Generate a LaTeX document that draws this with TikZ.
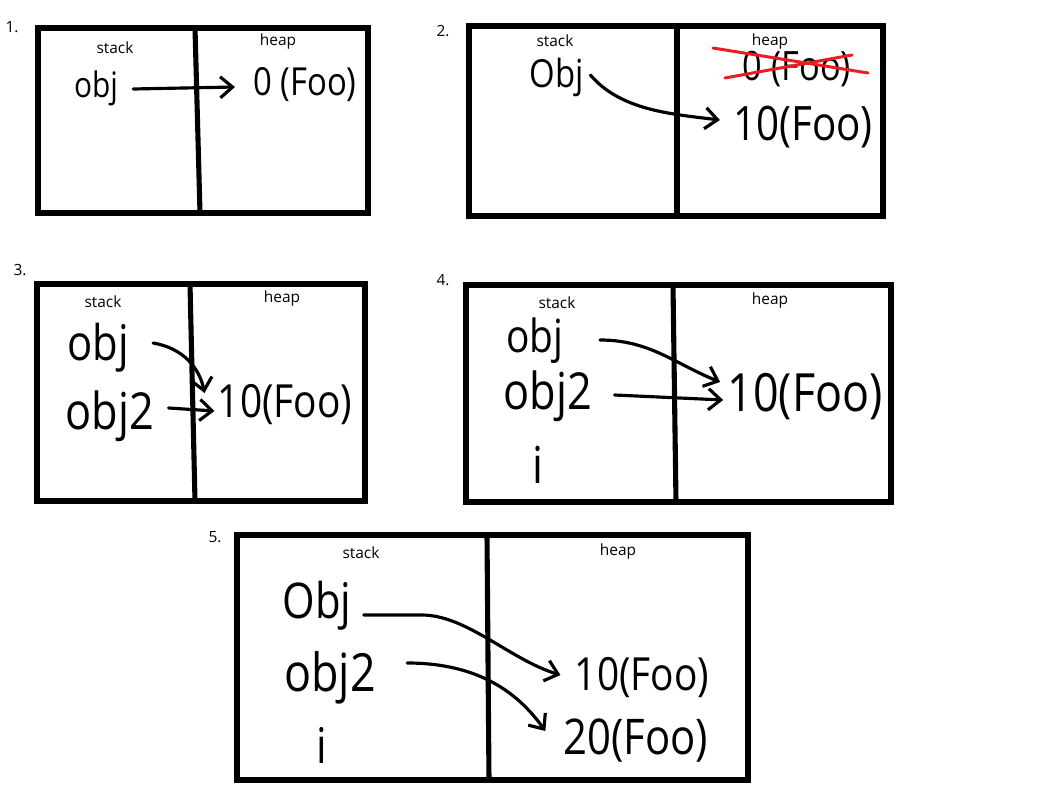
\documentclass[tikz,border=0pt]{standalone}
\usepackage{fontspec}
\setmainfont{Open Sans}
\newfontfamily\handfont[FakeStretch=0.85]{Open Sans}
\usetikzlibrary{calc,arrows.meta}
\definecolor{paintred}{RGB}{237,28,36}
\tikzstyle{frame}=[line width=2.9pt]
\tikzstyle{ptr}=[line width=1.8pt,line cap=round,-{Straight Barb[length=7pt,width=12pt]}]
\tikzstyle{strike}=[paintred,line width=1.7pt,line cap=round]
\tikzstyle{small}=[font=\fontsize{8.8}{10}\selectfont,inner sep=0pt]
\tikzstyle{hand}=[inner sep=0pt]
\newcommand{\hw}[1]{\handfont\fontsize{#1}{#1}\selectfont}
\newcommand{\drawframe}[6]{
\draw[frame] (#1,#2) rectangle (#3,#4);
\draw[frame] (#5,#2) -- (#6,#4);
}

\begin{document}
\begin{tikzpicture}[x=0.02cm,y=-0.02cm]
\useasboundingbox (0,0) rectangle (1049,797);

	% 1.
	\begin{scope}
	\drawframe{38}{28}{368}{213}{195}{200}
	\node[small] (n1) at (12,27) {1.};
	\node[small] (s1) at (115,48) {stack};
	\node[small] (h1) at (278,41) {heap};
	\node[hand,font=\hw{20}] (o1) at (96,88) {obj};
	\node[hand,font=\hw{22}] (f1) at (305,85) {0 (Foo)};
	\draw[ptr] ($(o1.east)+(15,1)$) -- ($(f1.west)+(-18,2)$);
	\end{scope}

	% 2.
	\begin{scope}
	\drawframe{469}{26}{883}{216}{677}{677}
	\node[small] (n2) at (443,31) {2.};
	\node[small] (s2) at (555,41) {stack};
	\node[small] (h2) at (770,41) {heap};
	\node[hand,font=\hw{22}] (o2) at (557,77) {Obj};
	\node[hand,font=\hw{23}] (x2) at (797,69) {0 (Foo)};
	\node[hand,font=\hw{27}] (t2) at (803,127) {10(Foo)};
	\draw[strike] ($(x2.center)+(-84,-21)$) -- ($(x2.center)+(71,4)$);
	\draw[strike] ($(x2.center)+(-72,9)$) -- ($(x2.center)+(55,-14)$);
	\draw[ptr] ($(o2.east)+(6,-2)$) .. controls +(30,35) and +(-50,-6) .. ($(t2.west)+(-13,-7)$);
	\end{scope}

	% 3.
	\begin{scope}
	\drawframe{37}{284}{365}{501}{190}{195}
	\node[small] (n3) at (20,270) {3.};
	\node[small] (s3) at (103,302) {stack};
	\node[small] (h3) at (282,298) {heap};
	\node[hand,font=\hw{28}] (o3) at (98,348) {obj};
	\node[hand,font=\hw{29}] (o3b) at (110,416) {obj2};
	\node[hand,font=\hw{26}] (t3) at (285,405) {10(Foo)};
	\draw[ptr] ($(o3.east)+(24,-5)$) .. controls +(30,5) and +(-5,-25) .. ($(t3.west)+(-13,-12)$);
	\draw[ptr] ($(o3b.east)+(14,-8)$) -- ($(t3.west)+(-3,6)$);
	\end{scope}

	% 4.
	\begin{scope}
	\drawframe{466}{285}{891}{502}{673}{676}
	\node[small] (n4) at (443,280) {4.};
	\node[small] (s4) at (557,303) {stack};
	\node[small] (h4) at (770,300) {heap};
	\node[hand,font=\hw{26}] (o4) at (535,341) {obj};
	\node[hand,font=\hw{29}] (o4b) at (548,396) {obj2};
	\node[hand,font=\hw{29}] (i4) at (538,465) {i};
	\node[hand,font=\hw{30}] (t4) at (805,397) {10(Foo)};
	\draw[ptr] ($(o4.east)+(36,-1)$) .. controls +(50,0) and +(-45,-18) .. ($(t4.west)+(-7,-15)$);
	\draw[ptr] ($(o4b.east)+(22,-1)$) -- ($(t4.west)+(-4,3)$);
	\end{scope}

	% 5.
	\begin{scope}
	\drawframe{237}{535}{748}{780}{487}{489}
	\node[small] (n5) at (215,537) {5.};
	\node[small] (s5) at (361,553) {stack};
	\node[small] (h5) at (618,551) {heap};
	\node[hand,font=\hw{28}] (o5) at (317,606) {Obj};
	\node[hand,font=\hw{30}] (o5b) at (330,678) {obj2};
	\node[hand,font=\hw{28}] (i5) at (322,745) {i};
	\node[hand,font=\hw{26}] (t5) at (642,678) {10(Foo)};
	\node[hand,font=\hw{28}] (u5) at (636,741) {20(Foo)};
	\draw[ptr] ($(o5.east)+(12,9)$) -- ++(58,0) .. controls +(45,0) and +(-50,-15) .. ($(t5.west)+(-14,-3)$);
	\draw[ptr] ($(o5b.east)+(31,-15)$) .. controls +(75,0) and +(-25,-35) .. ($(u5.west)+(-18,-10)$);
	\end{scope}

\end{tikzpicture}
\end{document}
